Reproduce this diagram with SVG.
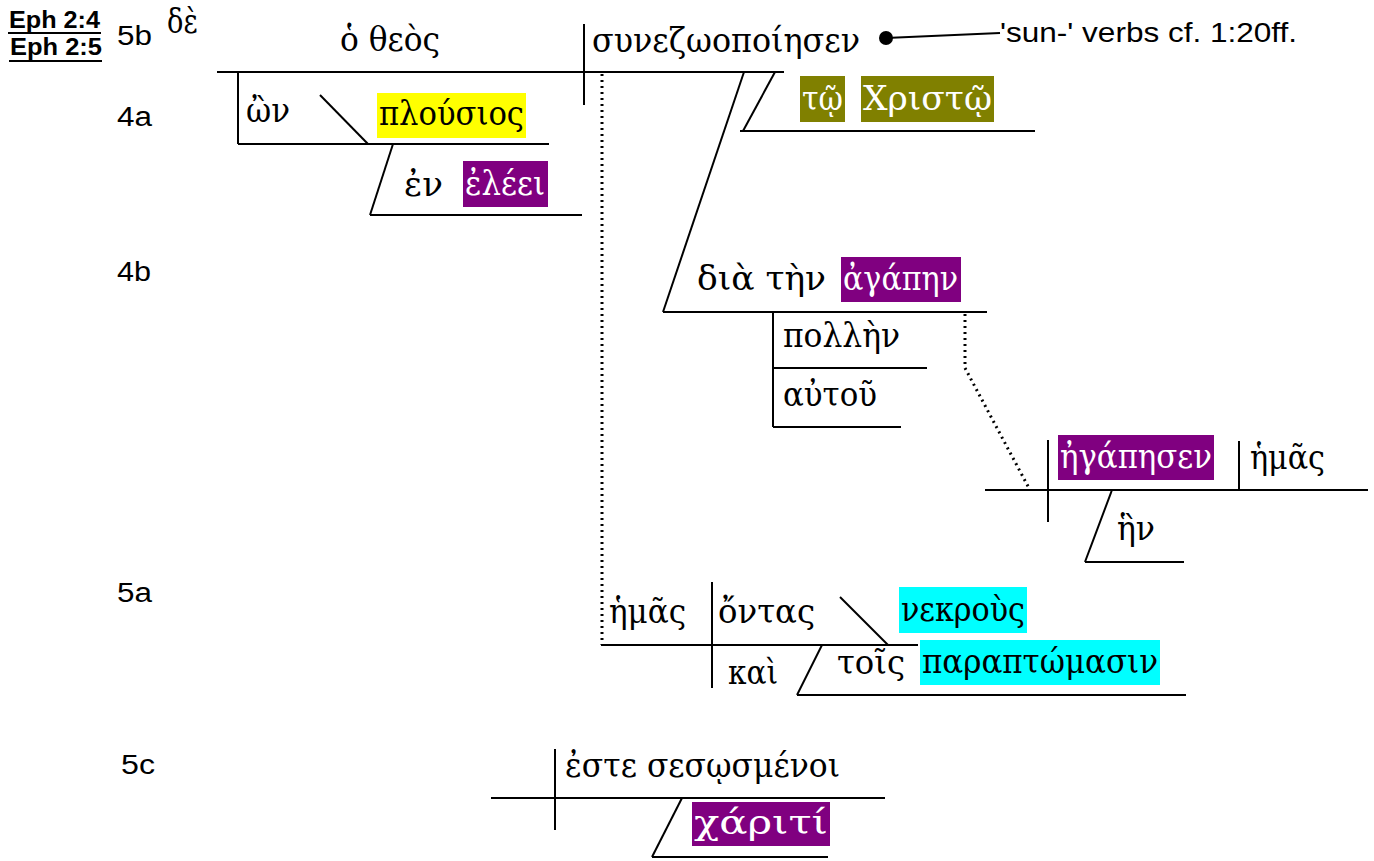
<svg xmlns="http://www.w3.org/2000/svg" width="1374" height="861" viewBox="0 0 1374 861">
<style>
.ln{stroke:#000;stroke-width:2;fill:none}
.dot{stroke:#000;stroke-width:3;fill:none;stroke-dasharray:2 4}
.gk{font-family:"DejaVu Serif","Liberation Serif",serif;font-size:34px;fill:#000}
.wt{fill:#fff}
.lb{font-family:"Liberation Sans",Arial,sans-serif;font-size:27px;fill:#000}
.ref{font-family:"Liberation Sans",Arial,sans-serif;font-size:23px;font-weight:bold;fill:#000}
.note{font-family:"Liberation Sans",Arial,sans-serif;font-size:28px;fill:#000}
.yl{fill:#ffff00}.pu{fill:#800080}.ol{fill:#808000}.cy{fill:#00ffff}
</style>
<rect width="1374" height="861" fill="#fff"/>
<g id="refs">
<text class="ref" x="9" y="28" textLength="91" lengthAdjust="spacingAndGlyphs">Eph 2:4</text>
<line class="ln" x1="8" y1="33" x2="101" y2="33" stroke-width="3"/>
<text class="ref" x="10" y="55" textLength="92" lengthAdjust="spacingAndGlyphs">Eph 2:5</text>
<line class="ln" x1="9" y1="61" x2="102" y2="61" stroke-width="3"/>
</g>
<g id="labels">
<text class="lb" x="117" y="45" textLength="35" lengthAdjust="spacingAndGlyphs">5b</text>
<text class="lb" x="117" y="126" textLength="35" lengthAdjust="spacingAndGlyphs">4a</text>
<text class="lb" x="117" y="281" textLength="34" lengthAdjust="spacingAndGlyphs">4b</text>
<text class="lb" x="117" y="602" textLength="35" lengthAdjust="spacingAndGlyphs">5a</text>
<text class="lb" x="121" y="774" textLength="34" lengthAdjust="spacingAndGlyphs">5c</text>
</g>
<g id="connectors">
<line class="ln" x1="217" y1="72" x2="784" y2="72"/>
<line class="ln" x1="584" y1="24" x2="584" y2="105"/>
<line class="ln" x1="238" y1="72" x2="238" y2="144"/>
<line class="ln" x1="238" y1="144" x2="549" y2="144"/>
<line class="ln" x1="320" y1="95" x2="368" y2="144"/>
<line class="ln" x1="393" y1="144" x2="370" y2="215"/>
<line class="ln" x1="370" y1="215" x2="582" y2="215"/>
<line class="ln" x1="775" y1="72" x2="743" y2="131"/>
<line class="ln" x1="740" y1="131" x2="1035" y2="131"/>
<line class="ln" x1="744" y1="72" x2="663" y2="312"/>
<line class="ln" x1="663" y1="312" x2="987" y2="312"/>
<line class="ln" x1="773" y1="312" x2="773" y2="427"/>
<line class="ln" x1="773" y1="368" x2="927" y2="368"/>
<line class="ln" x1="773" y1="427" x2="901" y2="427"/>
<polyline class="dot" points="965,314 965,368 1030,490"/>
<line class="ln" x1="985" y1="490" x2="1368" y2="490"/>
<line class="ln" x1="1048" y1="440" x2="1048" y2="522"/>
<line class="ln" x1="1239" y1="441" x2="1239" y2="490"/>
<line class="ln" x1="1112" y1="490" x2="1085" y2="562"/>
<line class="ln" x1="1085" y1="562" x2="1184" y2="562"/>
<line class="dot" x1="602" y1="74" x2="602" y2="645"/>
<line class="ln" x1="601" y1="645" x2="918" y2="645"/>
<line class="ln" x1="712" y1="582" x2="712" y2="688"/>
<line class="ln" x1="840" y1="597" x2="888" y2="645"/>
<line class="ln" x1="822" y1="645" x2="797" y2="695"/>
<line class="ln" x1="797" y1="695" x2="1186" y2="695"/>
<line class="ln" x1="491" y1="798" x2="885" y2="798"/>
<line class="ln" x1="555" y1="749" x2="555" y2="830"/>
<line class="ln" x1="682" y1="798" x2="652" y2="857"/>
<line class="ln" x1="652" y1="857" x2="828" y2="857"/>
<line class="ln" x1="886" y1="38" x2="1000" y2="33" stroke-width="1.5"/>
</g>
<g id="subject">
<text class="gk" x="167" y="33" textLength="31" lengthAdjust="spacingAndGlyphs">δὲ</text>
<text class="gk" x="340" y="51" textLength="100" lengthAdjust="spacingAndGlyphs">ὁ θεὸς</text>
</g>
<g id="verb">
<text class="gk" x="592" y="52" textLength="268" lengthAdjust="spacingAndGlyphs">συνεζωοποίησεν</text>
<circle cx="886" cy="38" r="7" fill="#000"/>
<text class="note" x="1000" y="42" textLength="297" lengthAdjust="spacingAndGlyphs">'sun-' verbs cf. 1:20ff.</text>
</g>
<g id="on-plousios">
<text class="gk" x="246" y="122" textLength="44" lengthAdjust="spacingAndGlyphs">ὢν</text>
<rect class="yl" x="377" y="93" width="149" height="45"/>
<text class="gk" x="379" y="125" textLength="145" lengthAdjust="spacingAndGlyphs">πλούσιος</text>
</g>
<g id="en-eleei">
<text class="gk" x="404" y="196" textLength="39" lengthAdjust="spacingAndGlyphs">ἐν</text>
<rect class="pu" x="463" y="161" width="85" height="46"/>
<text class="gk wt" x="465" y="195" textLength="80" lengthAdjust="spacingAndGlyphs">ἐλέει</text>
</g>
<g id="to-christo">
<rect class="ol" x="800" y="76" width="45" height="46"/>
<text class="gk wt" x="802" y="110" textLength="41" lengthAdjust="spacingAndGlyphs">τῷ</text>
<rect class="ol" x="861" y="76" width="133" height="46"/>
<text class="gk wt" x="863" y="110" textLength="129" lengthAdjust="spacingAndGlyphs">Χριστῷ</text>
</g>
<g id="dia-agapen">
<text class="gk" x="697" y="290" textLength="129" lengthAdjust="spacingAndGlyphs">διὰ τὴν</text>
<rect class="pu" x="841" y="257" width="120" height="45"/>
<text class="gk wt" x="843" y="290" textLength="115" lengthAdjust="spacingAndGlyphs">ἀγάπην</text>
</g>
<g id="pollen">
<text class="gk" x="783" y="347" textLength="117" lengthAdjust="spacingAndGlyphs">πολλὴν</text>
</g>
<g id="autou">
<text class="gk" x="783" y="406" textLength="94" lengthAdjust="spacingAndGlyphs">αὐτοῦ</text>
</g>
<g id="egapesen">
<rect class="pu" x="1058" y="435" width="156" height="45"/>
<text class="gk wt" x="1060" y="468" textLength="152" lengthAdjust="spacingAndGlyphs">ἠγάπησεν</text>
<text class="gk" x="1250" y="469" textLength="75" lengthAdjust="spacingAndGlyphs">ἡμᾶς</text>
</g>
<g id="hen">
<text class="gk" x="1117" y="540" textLength="38" lengthAdjust="spacingAndGlyphs">ἣν</text>
</g>
<g id="hemas-ontas">
<text class="gk" x="609" y="623" textLength="77" lengthAdjust="spacingAndGlyphs">ἡμᾶς</text>
<text class="gk" x="718" y="623" textLength="97" lengthAdjust="spacingAndGlyphs">ὄντας</text>
<rect class="cy" x="899" y="587" width="128" height="46"/>
<text class="gk" x="901" y="621" textLength="124" lengthAdjust="spacingAndGlyphs">νεκροὺς</text>
</g>
<g id="kai-parapt">
<text class="gk" x="728" y="684" textLength="50" lengthAdjust="spacingAndGlyphs">καὶ</text>
<text class="gk" x="837" y="674" textLength="68" lengthAdjust="spacingAndGlyphs">τοῖς</text>
<rect class="cy" x="920" y="640" width="240" height="45"/>
<text class="gk" x="922" y="673" textLength="236" lengthAdjust="spacingAndGlyphs">παραπτώμασιν</text>
</g>
<g id="este">
<text class="gk" x="565" y="777" textLength="275" lengthAdjust="spacingAndGlyphs">ἐστε σεσῳσμένοι</text>
</g>
<g id="chariti">
<rect class="pu" x="692" y="802" width="138" height="44"/>
<text class="gk wt" x="694" y="834" textLength="134" lengthAdjust="spacingAndGlyphs">χάριτί</text>
</g>
</svg>
